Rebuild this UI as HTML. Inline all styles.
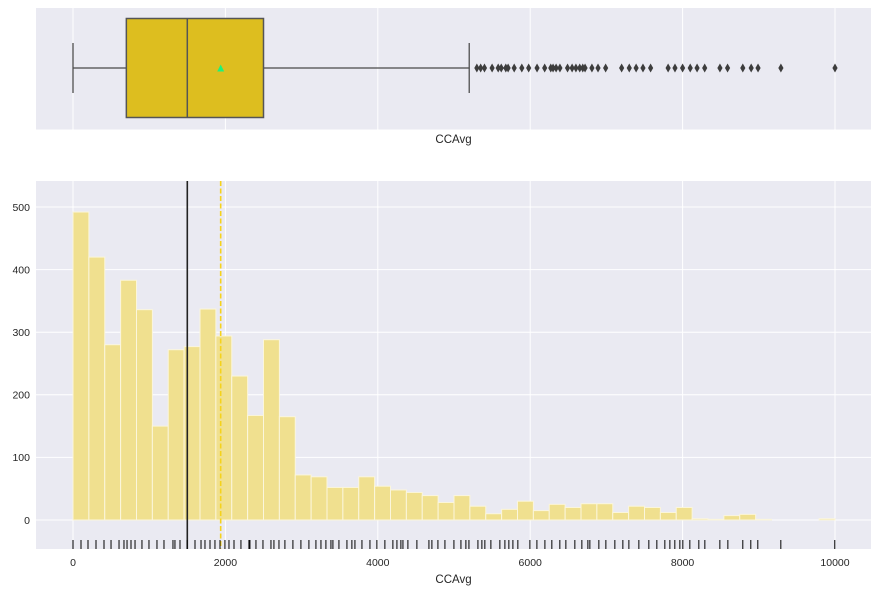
<!DOCTYPE html>
<html><head><meta charset="utf-8">
<style>
html,body{margin:0;padding:0;background:#fff;}
svg{display:block;font-family:"Liberation Sans",sans-serif;}
</style></head>
<body>
<svg id="chart" width="879" height="591" viewBox="0 0 879 591" xmlns="http://www.w3.org/2000/svg"></svg>
<script>
const binCounts = [492,420,280,383,336,150,272,277,337,294,230,167,288,165,72,69,52,52,69,54,48,44,39,28,39,22,10,17,30,15,25,20,26,26,12,22,20,12,20,2,1,7,9,1,0,0,0,2];
const binStart = 0;
const binEnd = 10000;
const xTicks = [0,2000,4000,6000,8000,10000];
const yTicks = [0,100,200,300,400,500];
const boxStats = [0,700,1500,2500,5200];
const meanValue = 1938;
const outliers = [5300,5350,5400,5500,5580,5620,5680,5710,5790,5890,5980,6090,6190,6270,6300,6340,6390,6490,6550,6600,6650,6690,6720,6810,6890,6990,7200,7300,7390,7480,7580,7810,7900,8000,8100,8190,8290,8490,8590,8790,8900,8990,9290,10000];
const rugValues = [0,105,197,302,407,499,604,669,709,761,814,905,997,1102,1194,1312,1338,1404,1496,1601,1680,1732,1798,1863,1929,1994,2047,2113,2204,2309,2322,2401,2493,2598,2637,2703,2781,2886,2991,3096,3188,3254,3319,3385,3411,3490,3595,3660,3700,3792,3897,3988,4093,4198,4251,4303,4330,4395,4513,4671,4710,4789,4881,4999,5091,5156,5196,5314,5366,5405,5484,5602,5668,5720,5773,5838,5996,6088,6193,6284,6389,6468,6586,6678,6757,6783,6901,6993,7111,7216,7295,7426,7557,7662,7767,7833,7898,7964,8003,8095,8213,8292,8489,8594,8790,8895,8987,9289,9997];

const NS="http://www.w3.org/2000/svg";
const svg=document.getElementById('chart');
function mk(tag,attrs,parent){const e=document.createElementNS(NS,tag);for(const k in attrs)e.setAttribute(k,attrs[k]);(parent||svg).appendChild(e);return e;}
const L=36,R=871;
const X=v=>73+(v-0)*(835-73)/10000;
const T1=8,B1=129.5, T2=181,B2=549;
const Y=v=>520-v*(520-207)/500;

// top axes
const ax1=mk('g',{});


mk('rect',{x:L,y:T1,width:R-L,height:B1-T1,fill:'#eaeaf2'},ax1);
xTicks.forEach(t=>{const g=mk('line',{x1:X(t),x2:X(t),y1:T1,y2:B1,stroke:'#fff','stroke-width':1},ax1);

});
const cy=68;
const bx=mk('g',{},ax1);


mk('line',{x1:X(boxStats[0]),x2:X(boxStats[1]),y1:cy,y2:cy,stroke:'#4c4c4c','stroke-width':1.5,'stroke-opacity':0.85},bx);
mk('line',{x1:X(boxStats[3]),x2:X(boxStats[4]),y1:cy,y2:cy,stroke:'#4c4c4c','stroke-width':1.5,'stroke-opacity':0.85},bx);
mk('line',{x1:X(boxStats[0]),x2:X(boxStats[0]),y1:43,y2:93,stroke:'#4c4c4c','stroke-width':1.5,'stroke-opacity':0.85},bx);
mk('line',{x1:X(boxStats[4]),x2:X(boxStats[4]),y1:43,y2:93,stroke:'#4c4c4c','stroke-width':1.5,'stroke-opacity':0.85},bx);
mk('rect',{x:X(boxStats[1]),y:18.5,width:X(boxStats[3])-X(boxStats[1]),height:99,fill:'#ddbe1f',stroke:'#555','stroke-width':1.5},bx);
mk('line',{x1:X(boxStats[2]),x2:X(boxStats[2]),y1:18.5,y2:117.5,stroke:'#555','stroke-width':1.5},bx);
const mx=X(meanValue);
const tri=mk('polygon',{points:`${mx-3.5},${cy+3.5} ${mx+3.5},${cy+3.5} ${mx},${cy-3.5}`,fill:'#1df27a'},bx);


outliers.forEach(v=>{const x=X(v);const d=mk('polygon',{points:`${x},${cy-4.5} ${x+2.6},${cy} ${x},${cy+4.5} ${x-2.6},${cy}`,fill:'#3d3d3d'},bx);

});
const l1=mk('text',{x:(L+R)/2,y:143,'text-anchor':'middle','font-size':11.5,fill:'#262626'});l1.textContent='CCAvg';



// bottom axes
const ax2=mk('g',{});


mk('rect',{x:L,y:T2,width:R-L,height:B2-T2,fill:'#eaeaf2'},ax2);
xTicks.forEach(t=>{const g=mk('line',{x1:X(t),x2:X(t),y1:T2,y2:B2,stroke:'#fff','stroke-width':1},ax2);


const tx=mk('text',{x:X(t),y:566,'text-anchor':'middle','font-size':10.5,fill:'#262626'});tx.textContent=t;

});
yTicks.forEach(t=>{const g=mk('line',{x1:L,x2:R,y1:Y(t),y2:Y(t),stroke:'#fff','stroke-width':1},ax2);


const tx=mk('text',{x:L-6,y:Y(t)+3.8,'text-anchor':'end','font-size':10.5,fill:'#262626'});tx.textContent=t;

});
const bw=(binEnd-binStart)/binCounts.length;
binCounts.forEach((c,i)=>{const x0=X(binStart+i*bw),x1=X(binStart+(i+1)*bw);
const r=mk('rect',{x:x0,y:Y(c),width:x1-x0,height:Y(0)-Y(c),fill:'#f0e08f',stroke:'#fbf6dc','stroke-width':1},ax2);

});
const med=mk('line',{x1:X(boxStats[2]),x2:X(boxStats[2]),y1:T2,y2:B2,stroke:'#222','stroke-width':1.6},ax2);


const mn=mk('line',{x1:mx,x2:mx,y1:T2,y2:B2,stroke:'#f5d21c','stroke-width':1.6,'stroke-dasharray':'5,2.5'},ax2);


rugValues.forEach(v=>{const l=mk('line',{x1:X(v),x2:X(v),y1:540,y2:549,stroke:'#000','stroke-width':1},ax2);

});
const l2=mk('text',{x:(L+R)/2,y:583,'text-anchor':'middle','font-size':11.5,fill:'#262626'});l2.textContent='CCAvg';


</script>
</body></html>
